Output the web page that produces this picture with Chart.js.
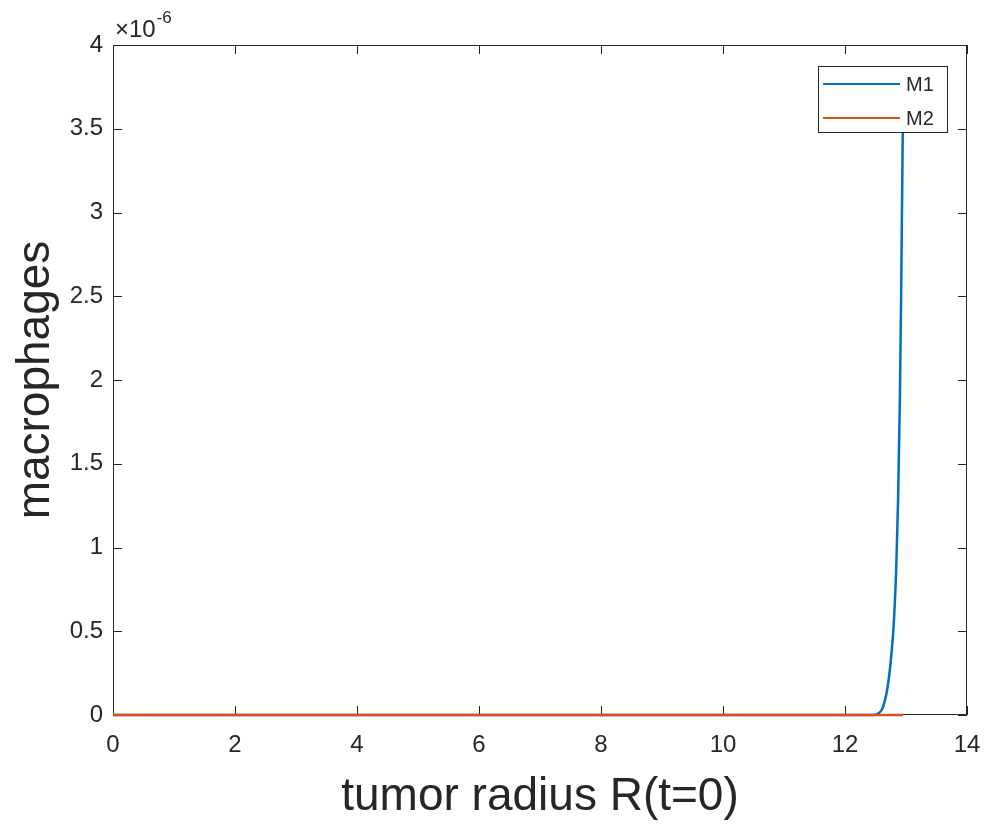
<!DOCTYPE html>
<html>
<head>
<meta charset="utf-8">
<script src="https://cdn.jsdelivr.net/npm/chart.js@4.4.0/dist/chart.umd.min.js"></script>
<style>
  html, body { margin: 0; padding: 0; background: #fff; }
  #wrap { width: 989px; height: 827px; }
</style>
</head>
<body>
<div id="wrap"><canvas id="grafico" width="989" height="827"></canvas></div>
<script>
// valores en unidades de 1e-6
var radioM1 = [0, 12.3, 12.5, 12.55, 12.6, 12.65, 12.7, 12.75, 12.8, 12.84, 12.87, 12.9, 12.92, 12.95];
var valoresM1 = [0, 0, 0.002, 0.01, 0.03, 0.08, 0.17, 0.32, 0.55, 0.88, 1.28, 1.9, 2.5, 3.6];
var radioM2 = [0, 12.95];
var valoresM2 = [0, 0];
var ticksX = [0, 2, 4, 6, 8, 10, 12, 14];
var ticksY = [0, 0.5, 1, 1.5, 2, 2.5, 3, 3.5, 4];
var nombres = ['M1', 'M2'];
var colores = ['#0072BD', '#D95319'];

function puntos(xs, ys) {
    var out = [];
    for (var i = 0; i < xs.length; i++) out.push({ x: xs[i], y: ys[i] });
    return out;
}

const ink = '#262626';
const fuente = '"Liberation Sans", Arial, sans-serif';

// marco y ticks hacia dentro (debajo de las lineas)
const marco = {
    id: 'marco',
    beforeDatasetsDraw(chart) {
        const c = chart.ctx, a = chart.chartArea;
        const sx = chart.scales.x, sy = chart.scales.y;
        const L = 9;
        c.save();
        c.strokeStyle = ink;
        c.lineWidth = 1;
        c.beginPath();
        c.rect(a.left + 0.5, a.top + 0.5, a.right - a.left - 1, a.bottom - a.top - 1);
        for (const t of ticksX) {
            const px = Math.round(sx.getPixelForValue(t)) + 0.5;
            c.moveTo(px, a.bottom); c.lineTo(px, a.bottom - L);
            c.moveTo(px, a.top); c.lineTo(px, a.top + L);
        }
        for (const t of ticksY) {
            const py = Math.round(sy.getPixelForValue(t)) + 0.5;
            c.moveTo(a.left, py); c.lineTo(a.left + L, py);
            c.moveTo(a.right, py); c.lineTo(a.right - L, py);
        }
        c.stroke();

        // exponente
        c.fillStyle = ink;
        c.textBaseline = 'alphabetic';
        c.textAlign = 'left';
        c.font = '24px ' + fuente;
        c.fillText('\u00d710', a.left + 2, a.top - 8);
        const w = c.measureText('\u00d710').width;
        c.font = '17px ' + fuente;
        c.fillText('-6', a.left + 2 + w + 1, a.top - 22);
        c.restore();
    },
    // leyenda encima de las lineas
    afterDatasetsDraw(chart) {
        const c = chart.ctx;
        const lx = 818, ly = 66, lw = 129, lh = 66;
        c.save();
        c.fillStyle = '#fff';
        c.fillRect(lx, ly, lw, lh);
        c.strokeStyle = ink;
        c.lineWidth = 1;
        c.strokeRect(lx + 0.5, ly + 0.5, lw, lh);
        c.font = '20px ' + fuente;
        c.textBaseline = 'middle';
        c.textAlign = 'left';
        for (let i = 0; i < nombres.length; i++) {
            const yy = ly + 18 + i * 34;
            c.strokeStyle = colores[i];
            c.lineWidth = 2;
            c.beginPath();
            c.moveTo(lx + 5, yy); c.lineTo(lx + 82, yy);
            c.stroke();
            c.fillStyle = ink;
            c.fillText(nombres[i], lx + 88, yy + 1);
        }
        c.restore();
    }
};

new Chart(document.getElementById('grafico'), {
    type: 'scatter',
    data: {
        datasets: [
            {
                label: nombres[1],
                data: puntos(radioM2, valoresM2),
                borderColor: colores[1],
                borderWidth: 2.5,
                showLine: true,
                pointRadius: 0,
                clip: 4,
                order: 1
            },
            {
                label: nombres[0],
                data: puntos(radioM1, valoresM1),
                borderColor: colores[0],
                borderWidth: 2.5,
                showLine: true,
                pointRadius: 0,
                cubicInterpolationMode: 'monotone',
                clip: 4,
                order: 2
            }
        ]
    },
    options: {
        responsive: false,
        animation: false,
        layout: { padding: { top: 45, right: 22, left: 0, bottom: 0 } },
        plugins: { legend: { display: false }, tooltip: { enabled: false } },
        scales: {
            x: {
                type: 'linear',
                min: 0, max: 14,
                afterBuildTicks: s => { s.ticks = ticksX.map(v => ({ value: v })); },
                afterFit: s => { s.height = 112; s.paddingRight = 0; s.paddingLeft = 0; },
                grid: { display: false, drawTicks: false },
                border: { display: false },
                ticks: { color: ink, font: { family: fuente, size: 24 }, padding: 16, maxRotation: 0,
                    callback: v => String(v) },
                title: {
                    display: true,
                    text: 'tumor radius R(t=0)',
                    color: ink,
                    font: { family: fuente, size: 46 },
                    padding: { top: 0, bottom: 2 }
                }
            },
            y: {
                type: 'linear',
                min: 0, max: 4,
                afterBuildTicks: s => { s.ticks = ticksY.map(v => ({ value: v })); },
                afterFit: s => { s.width = 113; s.paddingTop = 0; s.paddingBottom = 0; },
                grid: { display: false, drawTicks: false },
                border: { display: false },
                ticks: { color: ink, font: { family: fuente, size: 24 }, padding: 10,
                    callback: v => String(v) },
                title: {
                    display: true,
                    text: 'macrophages',
                    color: ink,
                    font: { family: fuente, size: 46 },
                    padding: { top: 9, bottom: 0 }
                }
            }
        }
    },
    plugins: [marco]
});
</script>
</body>
</html>
